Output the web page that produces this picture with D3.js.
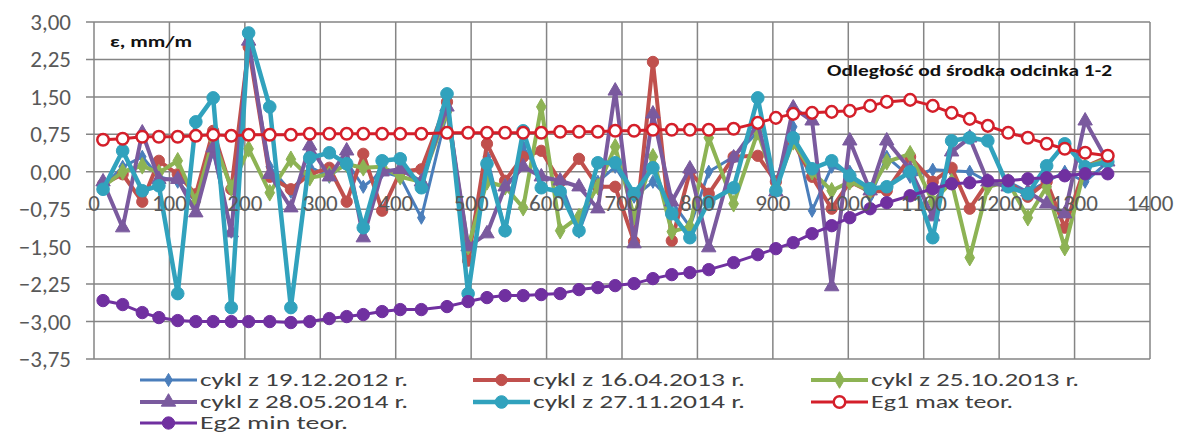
<!DOCTYPE html>
<html><head><meta charset="utf-8">
<script src="https://cdn.jsdelivr.net/npm/d3@7"></script>
<style>
html,body{margin:0;padding:0;background:#fff;}
svg{display:block;font-family:Carlito,Lato,"Open Sans",sans-serif;}
</style></head>
<body><svg id="c" width="1177" height="434"></svg>
<script>
// ---- data ----
const xPos = [12,38,64,86,111,135,158,182,205,233,261,286,312,335,357,382,406,434,468,496,521,545,569,593,618,643,668,691,716,741,766,790,815,848,880,904,927,952,978,1002,1029,1051,1082,1112,1137,1161,1185,1212,1238,1263,1287,1314,1344];

const cykl2012 = [-0.3,0.1,0.3,-0.1,-0.2,-0.6,0.4,-1.2,2.5,0.1,-0.4,0.1,-0.1,0.2,-0.3,0.0,-0.1,-0.92,1.2,-1.6,0.3,-1.18,0.5,-0.1,-0.2,-1.2,-0.2,0.1,-0.5,-0.2,-0.6,-1.1,0.0,0.3,0.8,-0.2,0.9,-0.78,0.1,0.0,-0.5,0.3,-0.1,0.04,0.02,0.0,-0.2,-0.2,-0.4,-0.2,0.0,-0.2,0.2];
const cykl2013a = [-0.25,-0.05,-0.6,0.22,-0.05,-0.45,0.82,-0.35,2.5,-0.1,-0.35,-0.05,0.08,-0.6,0.36,-0.78,0.0,0.05,1.4,-1.78,0.56,-0.18,0.3,0.42,-0.2,0.26,-0.3,-0.3,-1.4,2.2,-1.38,0.0,-0.44,0.3,0.32,-0.2,0.6,-0.1,-0.74,-0.2,-0.4,-0.38,0.3,-0.2,0.08,-0.74,-0.2,-0.2,-0.5,-0.2,-1.12,0.1,0.3];
const cykl2013b = [-0.3,0.0,0.12,-0.02,0.22,-0.6,0.65,-0.32,0.46,-0.42,0.25,-0.12,-0.05,0.15,0.08,0.1,-0.1,-0.2,1.2,-1.5,-0.2,-0.3,-0.72,1.3,-1.18,-0.9,-0.3,0.5,-0.9,0.3,-1.2,-1.1,0.68,-0.64,0.8,-0.3,0.6,0.0,-0.38,-0.2,-0.38,0.2,0.36,-0.6,-0.2,-1.72,-0.3,-0.2,-0.92,-0.3,-1.52,0.1,0.26];
const cykl2014a = [-0.2,-1.12,0.78,-0.15,-0.15,-0.82,0.48,-1.22,2.62,-0.05,-0.72,0.52,-0.1,0.42,-1.32,0.0,0.05,-0.2,1.3,-1.5,-1.24,-0.3,0.1,-0.1,-0.18,-0.3,-0.74,1.62,-1.44,1.16,-0.6,0.06,-1.52,0.28,0.95,-0.4,1.28,1.02,-2.3,0.62,-0.38,0.62,0.05,-0.9,0.4,0.68,-0.2,-0.3,-0.4,-0.64,-0.84,1.02,0.2];
const cykl2014b = [-0.35,0.42,-0.38,-0.28,-2.44,1.0,1.48,-2.72,2.78,1.3,-2.72,0.28,0.38,0.16,-1.12,0.22,0.26,-0.32,1.56,-2.44,0.16,-1.18,0.82,-0.32,-0.4,-1.18,0.18,0.18,-0.44,0.08,-0.84,-1.32,-0.6,-0.32,1.48,-0.38,0.68,0.06,0.22,-0.08,-0.34,-0.3,0.0,-1.32,0.62,0.68,0.62,-0.3,-0.44,0.12,0.56,0.1,0.2];
const eg1Max = [0.64,0.66,0.70,0.70,0.70,0.72,0.74,0.72,0.74,0.74,0.74,0.76,0.76,0.76,0.76,0.76,0.76,0.76,0.78,0.78,0.78,0.78,0.78,0.78,0.80,0.80,0.80,0.82,0.82,0.84,0.84,0.84,0.84,0.86,0.98,1.08,1.16,1.18,1.20,1.22,1.32,1.40,1.44,1.32,1.18,1.06,0.92,0.78,0.68,0.56,0.46,0.38,0.32];
const eg2Min = [-2.58,-2.66,-2.82,-2.92,-2.98,-3.0,-3.0,-3.0,-3.0,-3.0,-3.02,-3.0,-2.94,-2.9,-2.86,-2.8,-2.76,-2.76,-2.7,-2.6,-2.52,-2.48,-2.48,-2.46,-2.44,-2.36,-2.32,-2.28,-2.24,-2.14,-2.06,-2.02,-1.96,-1.82,-1.66,-1.54,-1.42,-1.24,-1.08,-0.92,-0.74,-0.62,-0.48,-0.34,-0.24,-0.22,-0.18,-0.18,-0.14,-0.12,-0.08,-0.04,-0.04];

const seriesNames = ["cykl z 19.12.2012 r.","cykl z 16.04.2013 r.","cykl z 25.10.2013 r.","cykl z 28.05.2014 r.","cykl z 27.11.2014 r.","Eg1 max teor.","Eg2 min teor."];
const xTicks = [0,100,200,300,400,500,600,700,800,900,1000,1100,1200,1300,1400];
const yTicks = [-3.75,-3.0,-2.25,-1.5,-0.75,0,0.75,1.5,2.25,3.0];

// ---- styles ----
const styles = [
  {data:cykl2012, color:"#4a7ebb", w:3, sym:d3.symbolDiamond, size:50},
  {data:cykl2013a, color:"#c0504d", w:4, sym:d3.symbolCircle, size:100},
  {data:cykl2013b, color:"#8db354", w:4, sym:d3.symbolDiamond, size:80},
  {data:cykl2014a, color:"#7a5a9e", w:4, sym:d3.symbolTriangle, size:90},
  {data:cykl2014b, color:"#31a2bd", w:4.5, sym:d3.symbolCircle, size:125},
  {data:eg1Max, color:"#d41f2a", w:3, sym:d3.symbolCircle, size:105, hollow:true},
  {data:eg2Min, color:"#7030a0", w:3, sym:d3.symbolCircle, size:120}
];

const svg = d3.select("#c");
const x = d3.scaleLinear().domain([0,1400]).range([94,1150]);
const y = d3.scaleLinear().domain([-3.75,3]).range([359,22]);
const fmt = v => d3.format(".2f")(v).replace(".",",");

// grid
const g = svg.append("g");
g.selectAll("line.h").data(yTicks).join("line")
  .attr("x1",86).attr("x2",x(1400)).attr("y1",d=>y(d)).attr("y2",d=>y(d))
  .attr("stroke","#858585").attr("stroke-width",1.5);
g.selectAll("line.v").data(xTicks).join("line")
  .attr("x1",d=>x(d)).attr("x2",d=>x(d)).attr("y1",y(3)).attr("y2",y(-3.75))
  .attr("stroke","#858585").attr("stroke-width",1.5);

// y labels
g.selectAll("text.yl").data(yTicks).join("text")
  .attr("x",71).attr("y",d=>y(d)).attr("dy","0.35em").attr("text-anchor","end")
  .attr("font-size",23).attr("fill","#595959").text(fmt);

// series
const line = d3.line().x((d,i)=>x(xPos[i])).y(d=>y(d));
styles.forEach(s=>{
  const sg = svg.append("g");
  sg.append("path").datum(s.data).attr("d",line).attr("fill","none")
    .attr("stroke",s.color).attr("stroke-width",s.w).attr("stroke-linejoin","round");
  sg.selectAll("path.m").data(s.data).join("path")
    .attr("transform",(d,i)=>`translate(${x(xPos[i])},${y(d)})`)
    .attr("d",d3.symbol().type(s.sym).size(s.size))
    .attr("fill",s.hollow?"#fff":s.color)
    .attr("stroke",s.color).attr("stroke-width",s.hollow?2.5:1);
});

// x labels (at zero line)
svg.append("g").selectAll("text").data(xTicks).join("text")
  .attr("x",d=>x(d)).attr("y",y(0)+39).attr("text-anchor","middle")
  .attr("font-size",23).attr("fill","#595959").text(d=>d);

// annotations
svg.append("text").attr("x",110).attr("y",47).attr("font-size",16).attr("font-weight","bold")
  .attr("fill","#111").attr("textLength",82).attr("lengthAdjust","spacingAndGlyphs").text("ε, mm/m");
svg.append("text").attr("x",827).attr("y",76).attr("font-size",16).attr("font-weight","bold")
  .attr("fill","#111").attr("textLength",285).attr("lengthAdjust","spacingAndGlyphs").text("Odległość od środka odcinka 1-2");

// legend
const legPos = [[140,380],[473,380],[811,380],[140,402],[473,402],[811,402],[140,423]];
const legLen = [208,212,208,208,212,142,148];
styles.forEach((s,i)=>{
  const [lx,ly] = legPos[i];
  const lg = svg.append("g");
  lg.append("line").attr("x1",lx).attr("x2",lx+57).attr("y1",ly).attr("y2",ly)
    .attr("stroke",s.color).attr("stroke-width",s.w);
  lg.append("path").attr("transform",`translate(${lx+28.5},${ly})`)
    .attr("d",d3.symbol().type(s.sym).size(s.size))
    .attr("fill",s.hollow?"#fff":s.color).attr("stroke",s.color).attr("stroke-width",s.hollow?2.5:1);
  lg.append("text").attr("x",lx+60).attr("y",ly).attr("dy","0.35em")
    .attr("font-size",18).attr("fill","#404040")
    .attr("textLength",legLen[i]).attr("lengthAdjust","spacingAndGlyphs").text(seriesNames[i]);
});
</script></body></html>
